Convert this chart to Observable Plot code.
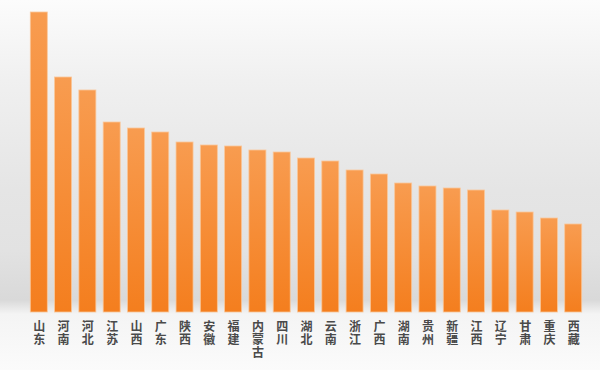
<!DOCTYPE html>
<html>
<head>
<meta charset="utf-8">
<script src="https://cdn.jsdelivr.net/npm/d3@7"></script>
<script src="https://cdn.jsdelivr.net/npm/@observablehq/plot@0.6"></script>
<style>
  html, body { margin: 0; padding: 0; }
  body { width: 600px; height: 370px; overflow: hidden; }
  #chart {
    width: 600px; height: 370px;
    background: linear-gradient(to bottom, #fcfcfc 0px, #f0f0f0 80px, #e5e5e5 190px, #e2e2e2 250px, #d9d9d9 300px, #f4f4f4 314px, #fbfbfb 370px);
  }
  #chart svg { display: block; }
</style>
</head>
<body>
<div id="chart"></div>
<script>
const provinces = ["山东","河南","河北","江苏","山西","广东","陕西","安徽","福建","内蒙古","四川","湖北","云南","浙江","广西","湖南","贵州","新疆","江西","辽宁","甘肃","重庆","西藏"];
const values = [300,235,222,190,184,180,170,167,166,162,160,154,151,142,138,129,126,124,122,102,100,94,88];

const data = provinces.map((p, i) => ({province: p, value: values[i]}));

const chart = Plot.plot({
  width: 600,
  height: 370,
  marginTop: 12,
  marginBottom: 58,
  marginLeft: 23,
  marginRight: 11,
  style: {background: "transparent", fontFamily: "'Noto Sans CJK SC', sans-serif"},
  x: {domain: provinces, padding: 0.3, round: false, label: null},
  y: {domain: [0, 300], axis: null},
  marks: [
    Plot.barY(data, {x: "province", y: "value", fill: "url(#barGrad)", stroke: "#f9c79a", strokeWidth: 0.8}),
    Plot.axisX({
      tickSize: 0,
      tickPadding: 9,
      fontSize: 12,
      fontWeight: "bold",
      lineHeight: 1.08,
      fill: "#4a4a4a",
      tickFormat: d => d.split("").join("\n")
    })
  ]
});

const ns = "http://www.w3.org/2000/svg";
const defs = document.createElementNS(ns, "defs");
const grad = document.createElementNS(ns, "linearGradient");
grad.setAttribute("id", "barGrad");
grad.setAttribute("x1", "0"); grad.setAttribute("y1", "0");
grad.setAttribute("x2", "0"); grad.setAttribute("y2", "1");
[["0%", "#f89c50"], ["100%", "#f47e1e"]].forEach(([o, c]) => {
  const s = document.createElementNS(ns, "stop");
  s.setAttribute("offset", o); s.setAttribute("stop-color", c);
  grad.appendChild(s);
});
defs.appendChild(grad);
chart.insertBefore(defs, chart.firstChild);

document.getElementById("chart").appendChild(chart);
</script>
</body>
</html>
